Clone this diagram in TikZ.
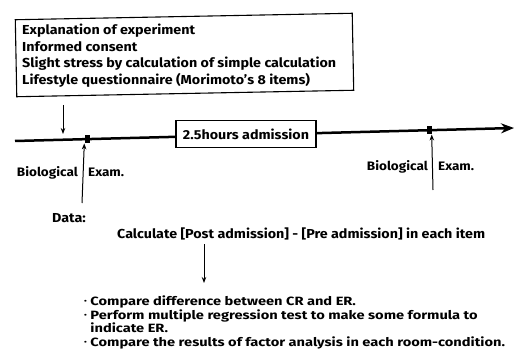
\documentclass[tikz,border=0pt]{standalone}
\usepackage{fontspec}
\setmainfont{Fira Sans}[FakeStretch=1.1]
\newfontfamily\bulletfont{Fira Sans}[FakeStretch=1.22]
\usetikzlibrary{arrows.meta}
\newcommand{\bdot}{\raisebox{0.3ex}{\scalebox{0.55}{\textbullet}}\ }
\begin{document}
\begin{tikzpicture}[x=1pt,y=-1pt,
  font=\bfseries\fontsize{13}{16.5}\selectfont,
  lbl/.style={inner sep=0pt, anchor=base west},
  bul/.style={lbl, font=\bulletfont\bfseries\fontsize{12}{13.5}\selectfont},
  bio/.style={lbl, font=\bfseries\fontsize{12.3}{15}\selectfont},
  thin arrow/.style={line width=1pt, -{Stealth[length=6pt,width=4.5pt]}},
  tick/.style={fill=black, minimum width=5pt, minimum height=8pt, inner sep=0pt}]
\useasboundingbox (0,0) rectangle (516,358);
% top box
\node (info) [draw, line width=1.1pt, rotate=1.1, minimum width=337pt, minimum height=77pt, inner sep=0pt] at (184.5,55) {};
\node (t1) [lbl] at (22,35) {Explanation of experiment};
\node (t2) [lbl] at (22,51.5) {Informed consent};
\node (t3) [lbl] at (22,68) {Slight stress by calculation of simple calculation};
\node (t4) [lbl] at (22,84.5) {Lifestyle questionnaire (Morimoto's 8 items)};
\coordinate (a0) at (63,105);
\coordinate (a1) at (63,134);
\draw[thin arrow] (a0) -- (a1);
% timeline
\coordinate (tl0) at (15,141);
\coordinate (tl1) at (514,128);
\draw[line width=2.5pt, -{Stealth[length=13pt,width=10pt]}] (tl0) -- (tl1);
\node (adm) [draw, fill=white, line width=1.1pt, minimum width=140pt, minimum height=27pt, inner sep=2pt] at (246,134) {2.5hours admission};
\node (m1) [tick] at (87,139.2) {};
\node (m2) [tick] at (429,130.3) {};
% biological exams
\coordinate (b0) at (82,203);
\draw[thin arrow] (b0) -- (m1.south west);
\node (bio1) [bio, anchor=base east] at (78,176.5) {Biological};
\node (ex1) [bio] at (88,176.5) {Exam.};
\coordinate (b1) at (433,190);
\draw[thin arrow] (b1) -- (m2.south east);
\node (bio2) [bio, anchor=base east] at (428,171) {Biological};
\node (ex2) [bio] at (438,171) {Exam.};
% data
\node (data) [lbl] at (52,222.5) {Data:};
\node (calc) [lbl] at (117,238.5) {Calculate [Post admission] - [Pre admission] in each item};
\coordinate (c0) at (204,244);
\coordinate (c1) at (204,283);
\draw[thin arrow] (c0) -- (c1);
\node (r1) [bul] at (84,305.5) {\bdot Compare difference between CR and ER.};
\node (r2) [bul] at (84,319) {\bdot Perform multiple regression test to make some formula to};
\node (r3) [bul] at (84,332.5) {\hphantom{\bdot}indicate ER.};
\node (r4) [bul] at (84,346) {\bdot Compare the results of factor analysis in each room-condition.};
\end{tikzpicture}
\end{document}
